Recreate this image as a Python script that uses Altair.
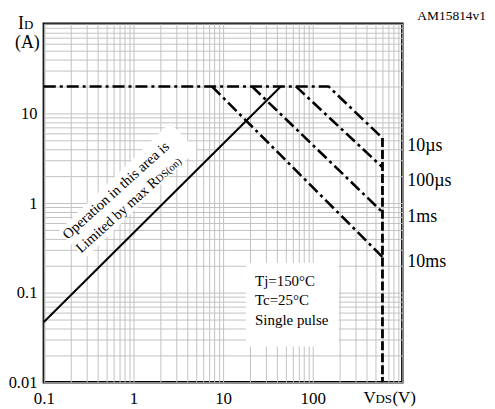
import altair as alt
import pandas as pd

# ---- axis tick / grid values ----
x_decades = [0.1, 1, 10, 100]
y_decades = [0.01, 0.1, 1, 10]
mult = [1, 2, 3, 4, 5, 6, 7, 8, 9]
x_grid = [round(m * 10 ** e, 6) for e in range(-1, 3) for m in mult] + [1000]
y_grid = [round(m * 10 ** e, 6) for e in range(-2, 2) for m in mult] + [100]

# ---- RDS(on) limit line ----
rds_v = [0.1, 44]
rds_i = [0.047, 20]

# ---- pulse curves (VDS, ID) ----
curve_names = ["10µs", "10µs", "10µs", "100µs", "100µs", "1ms", "1ms", "10ms", "10ms"]
curve_v = [0.1, 150, 600, 65, 600, 21, 600, 7.5, 600]
curve_i = [20, 20, 5.3, 20, 2.5, 20, 0.79, 20, 0.25]

# ---- VDS max vertical limit ----
vmax_v = [600, 600]
vmax_i = [5.3, 0.01]

# ---- curve labels on the right ----
label_names = ["10µs", "100µs", "1ms", "10ms"]
label_i = [4.3, 1.75, 0.7, 0.22]

# ---- annotations ----
cond_text = ["Tj=150°C", "Tc=25°C", "Single pulse"]
cond_i = [0.12, 0.0736, 0.044]
cond_v = 22.7

FONT = "Liberation Serif"

xs = alt.Scale(type="log", domain=[0.1, 1000], nice=False)
ys = alt.Scale(type="log", domain=[0.01, 100], nice=False)

common_axis = dict(
    title=None, ticks=False, tickSize=0, domain=False, grid=True,
    gridColor="#c2c2c2", gridWidth=1, labelFont=FONT,
    labelColor="black", labelFlush=False, labelOverlap=False, labelBound=False,
    format="~g",
)
x_axis = alt.Axis(values=x_grid, labelPadding=8, labelFontSize=17,
                  labelExpr="indexof([0.1,1,10,100], datum.value) >= 0 ? datum.label : ''",
                  **common_axis)
y_axis = alt.Axis(values=y_grid, labelPadding=7, labelFontSize=16.5,
                  labelExpr="indexof([0.01,0.1,1,10], datum.value) >= 0 ? datum.label : ''",
                  **common_axis)

# white band behind rotated text
band_df = pd.DataFrame({"v": [0.205], "i": [0.341], "v2": [3.59], "i2": [5.55]})
band = alt.Chart(band_df).mark_rule(color="white", strokeWidth=38, strokeCap="butt").encode(
    x=alt.X("v:Q", scale=xs, axis=x_axis),
    y=alt.Y("i:Q", scale=ys, axis=y_axis),
    x2="v2:Q", y2="i2:Q",
)

# white box behind conditions text
box_df = pd.DataFrame({"v": [18], "v2": [194], "i": [0.025], "i2": [0.215]})
box = alt.Chart(box_df).mark_rect(color="white").encode(
    x=alt.X("v:Q", scale=xs, axis=x_axis),
    x2="v2:Q",
    y=alt.Y("i:Q", scale=ys, axis=y_axis),
    y2="i2:Q",
)

rds_df = pd.DataFrame({"v": rds_v, "i": rds_i})
rds = alt.Chart(rds_df).mark_line(color="black", strokeWidth=2).encode(
    x=alt.X("v:Q", scale=xs, axis=x_axis),
    y=alt.Y("i:Q", scale=ys, axis=y_axis),
)

curves_df = pd.DataFrame({"name": curve_names, "v": curve_v, "i": curve_i,
                          "idx": list(range(len(curve_v)))})
curves = alt.Chart(curves_df).mark_line(color="black", strokeWidth=2.6,
                                        strokeDash=[12, 4, 3, 4]).encode(
    x=alt.X("v:Q", scale=xs, axis=x_axis),
    y=alt.Y("i:Q", scale=ys, axis=y_axis),
    detail="name:N",
    order="idx:Q",
)

vmax_df = pd.DataFrame({"v": vmax_v, "i": vmax_i})
vmax = alt.Chart(vmax_df).mark_line(color="black", strokeWidth=2.8,
                                    strokeDash=[9, 3]).encode(
    x=alt.X("v:Q", scale=xs, axis=x_axis),
    y=alt.Y("i:Q", scale=ys, axis=y_axis),
)

lab_df = pd.DataFrame({"name": label_names, "v": [1000] * 4, "i": label_i})
labels = alt.Chart(lab_df).mark_text(align="left", baseline="middle", dx=5,
                                     font=FONT, fontSize=18, color="black").encode(
    x=alt.X("v:Q", scale=xs, axis=x_axis),
    y=alt.Y("i:Q", scale=ys, axis=y_axis),
    text="name:N",
)

cond_df = pd.DataFrame({"t": cond_text, "v": [cond_v] * 3, "i": cond_i})
cond = alt.Chart(cond_df).mark_text(align="left", baseline="alphabetic",
                                    font=FONT, fontSize=15, color="black").encode(
    x=alt.X("v:Q", scale=xs, axis=x_axis),
    y=alt.Y("i:Q", scale=ys, axis=y_axis),
    text="t:N",
)


def note(text, v, i, size, align="left", baseline="alphabetic", dx=0, dy=0, angle=0):
    df = pd.DataFrame({"t": [text], "v": [v], "i": [i]})
    props = dict(align=align, baseline=baseline, dx=dx, dy=dy, font=FONT,
                 fontSize=size, color="black")
    if angle:
        props["angle"] = angle
    return alt.Chart(df).mark_text(**props).encode(
        x=alt.X("v:Q", scale=xs, axis=x_axis),
        y=alt.Y("i:Q", scale=ys, axis=y_axis),
        text="t:N",
    )


notes = [
    note("Operation in this area is", 0.185, 0.388, 14.5, angle=318),
    note("Limited by max R", 1.945, 1.67, 14.5, align="right", angle=318),
    note("DS(on)", 1.945, 1.67, 10.5, align="left", angle=318),
    note("I", 0.1, 100, 18, dx=-26, dy=5),
    note("D", 0.1, 100, 13, dx=-20, dy=5),
    note("(A)", 0.1, 100, 18, dx=-29, dy=24),
    note("V", 1000, 0.01, 17, dx=-39, dy=21),
    note("DS", 1000, 0.01, 13, dx=-27, dy=21),
    note("(V)", 1000, 0.01, 17, dx=-10, dy=21),
    note("AM15814v1", 1000, 100, 13.5, align="right", baseline="middle", dx=84, dy=-8),
]

chart = alt.layer(band, box, rds, curves, vmax, labels, cond, *notes).properties(
    width=360, height=360,
    padding={"left": 36, "top": 15, "right": 85, "bottom": 28},
    autosize=alt.AutoSizeParams(type="none"),
    background="white",
).configure_view(stroke="black", strokeWidth=2.5)

chart.save("out.html", embed_options={"renderer": "svg", "actions": False})
